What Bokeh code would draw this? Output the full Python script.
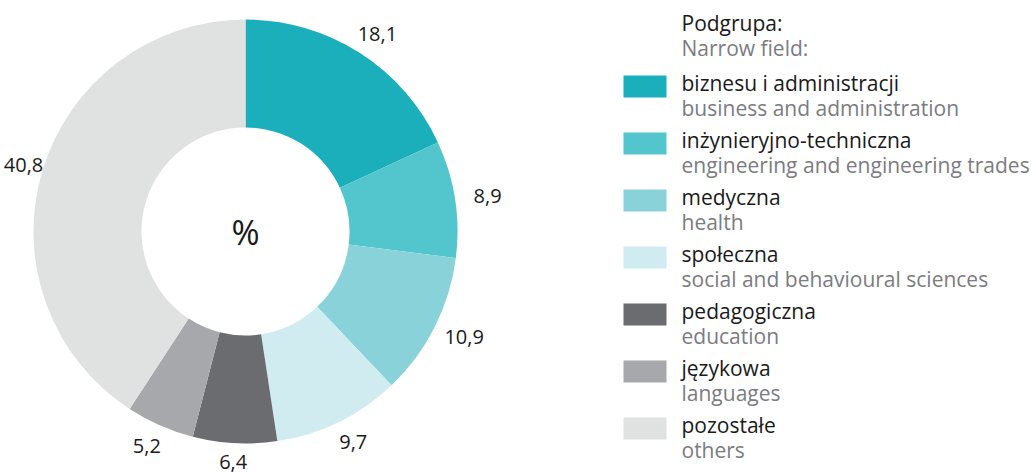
import math
from bokeh.plotting import figure
from bokeh.models import Range1d
from bokeh.core.properties import value
from bokeh.embed import file_html
from bokeh.resources import INLINE

# ---- data ----
labels_pl = ["biznesu i administracji", "inżynieryjno-techniczna", "medyczna", "społeczna",
             "pedagogiczna", "językowa", "pozostałe"]
labels_en = ["business and administration", "engineering and engineering trades", "health",
             "social and behavioural sciences", "education", "languages", "others"]
values = [18.1, 8.9, 10.9, 9.7, 6.4, 5.2, 40.8]
value_labels = ["18,1", "8,9", "10,9", "9,7", "6,4", "5,2", "40,8"]
colors = ["#1aafbb", "#52c5cd", "#89d2da", "#d0ecf1", "#6b6c70", "#a7a8ab", "#e0e1e1"]
title_pl = "Podgrupa:"
title_en = "Narrow field:"
center_label = "%"

FONT = "Open Sans"
W, H = 1033, 473
p = figure(width=W, height=H, output_backend="svg", toolbar_location=None,
           x_range=Range1d(0, W), y_range=Range1d(0, H), min_border=0)
p.axis.visible = False
p.grid.visible = False
p.outline_line_color = None
p.background_fill_color = "white"


def Y(v):
    return H - v


cx, cy = 245, Y(231)
r_in, r_out = 104, 212
gap = 14
half_w, half_h = 19, 8
total = sum(values)
starts, ends, lx, ly = [], [], [], []
cum = 0.0
for v in values:
    a0 = math.pi / 2 - 2 * math.pi * cum / total
    cum += v
    a1 = math.pi / 2 - 2 * math.pi * cum / total
    starts.append(a0)
    ends.append(a1)
    mid = (a0 + a1) / 2
    c, s = math.cos(mid), math.sin(mid)
    x = cx + (r_out + gap) * c + half_w * c
    y = cy + (r_out + gap) * s + half_h * s
    lx.append(min(max(x, half_w + 4), W - half_w - 4))
    ly.append(min(max(y, half_h + 4), H - half_h - 4))

p.annular_wedge(x=cx, y=cy, inner_radius=r_in, outer_radius=r_out,
                start_angle=starts, end_angle=ends, direction="clock",
                fill_color=colors, line_color=None)

p.text(x=lx, y=ly, text=value_labels, text_align="center", text_baseline="middle",
       text_font=value(FONT), text_font_size="20px", text_color="#1a1a1a")
p.text(x=[cx], y=[cy], text=[center_label], text_align="center", text_baseline="middle",
       text_font=value(FONT), text_font_size="34px", text_color="#1a1a1a")

# ---- legend ----
tx = 681
shift = 8  # compensate baseline placement of the svg text
p.text(x=[tx, tx], y=[Y(30 - shift), Y(55 - shift)], text=[title_pl, title_en],
       text_font=value(FONT), text_font_size="21px", text_baseline="alphabetic",
       text_color=["#1a1a1a", "#7b7c7f"])
base0 = 90
step = 57
sw_y = [Y(base0 + i * step) + 4 for i in range(len(values))]
ys1 = [Y(base0 - shift + i * step) for i in range(len(values))]
ys2 = [y - 25 for y in ys1]
p.rect(x=[644.5] * len(values), y=sw_y, width=43, height=22,
       fill_color=colors, line_color=None)
p.text(x=[tx] * len(values), y=ys1, text=labels_pl, text_font=value(FONT),
       text_font_size="21px", text_baseline="alphabetic", text_color="#1a1a1a")
p.text(x=[tx] * len(values), y=ys2, text=labels_en, text_font=value(FONT),
       text_font_size="21px", text_baseline="alphabetic", text_color="#7b7c7f")

open("out.html", "w").write(file_html(p, INLINE))
